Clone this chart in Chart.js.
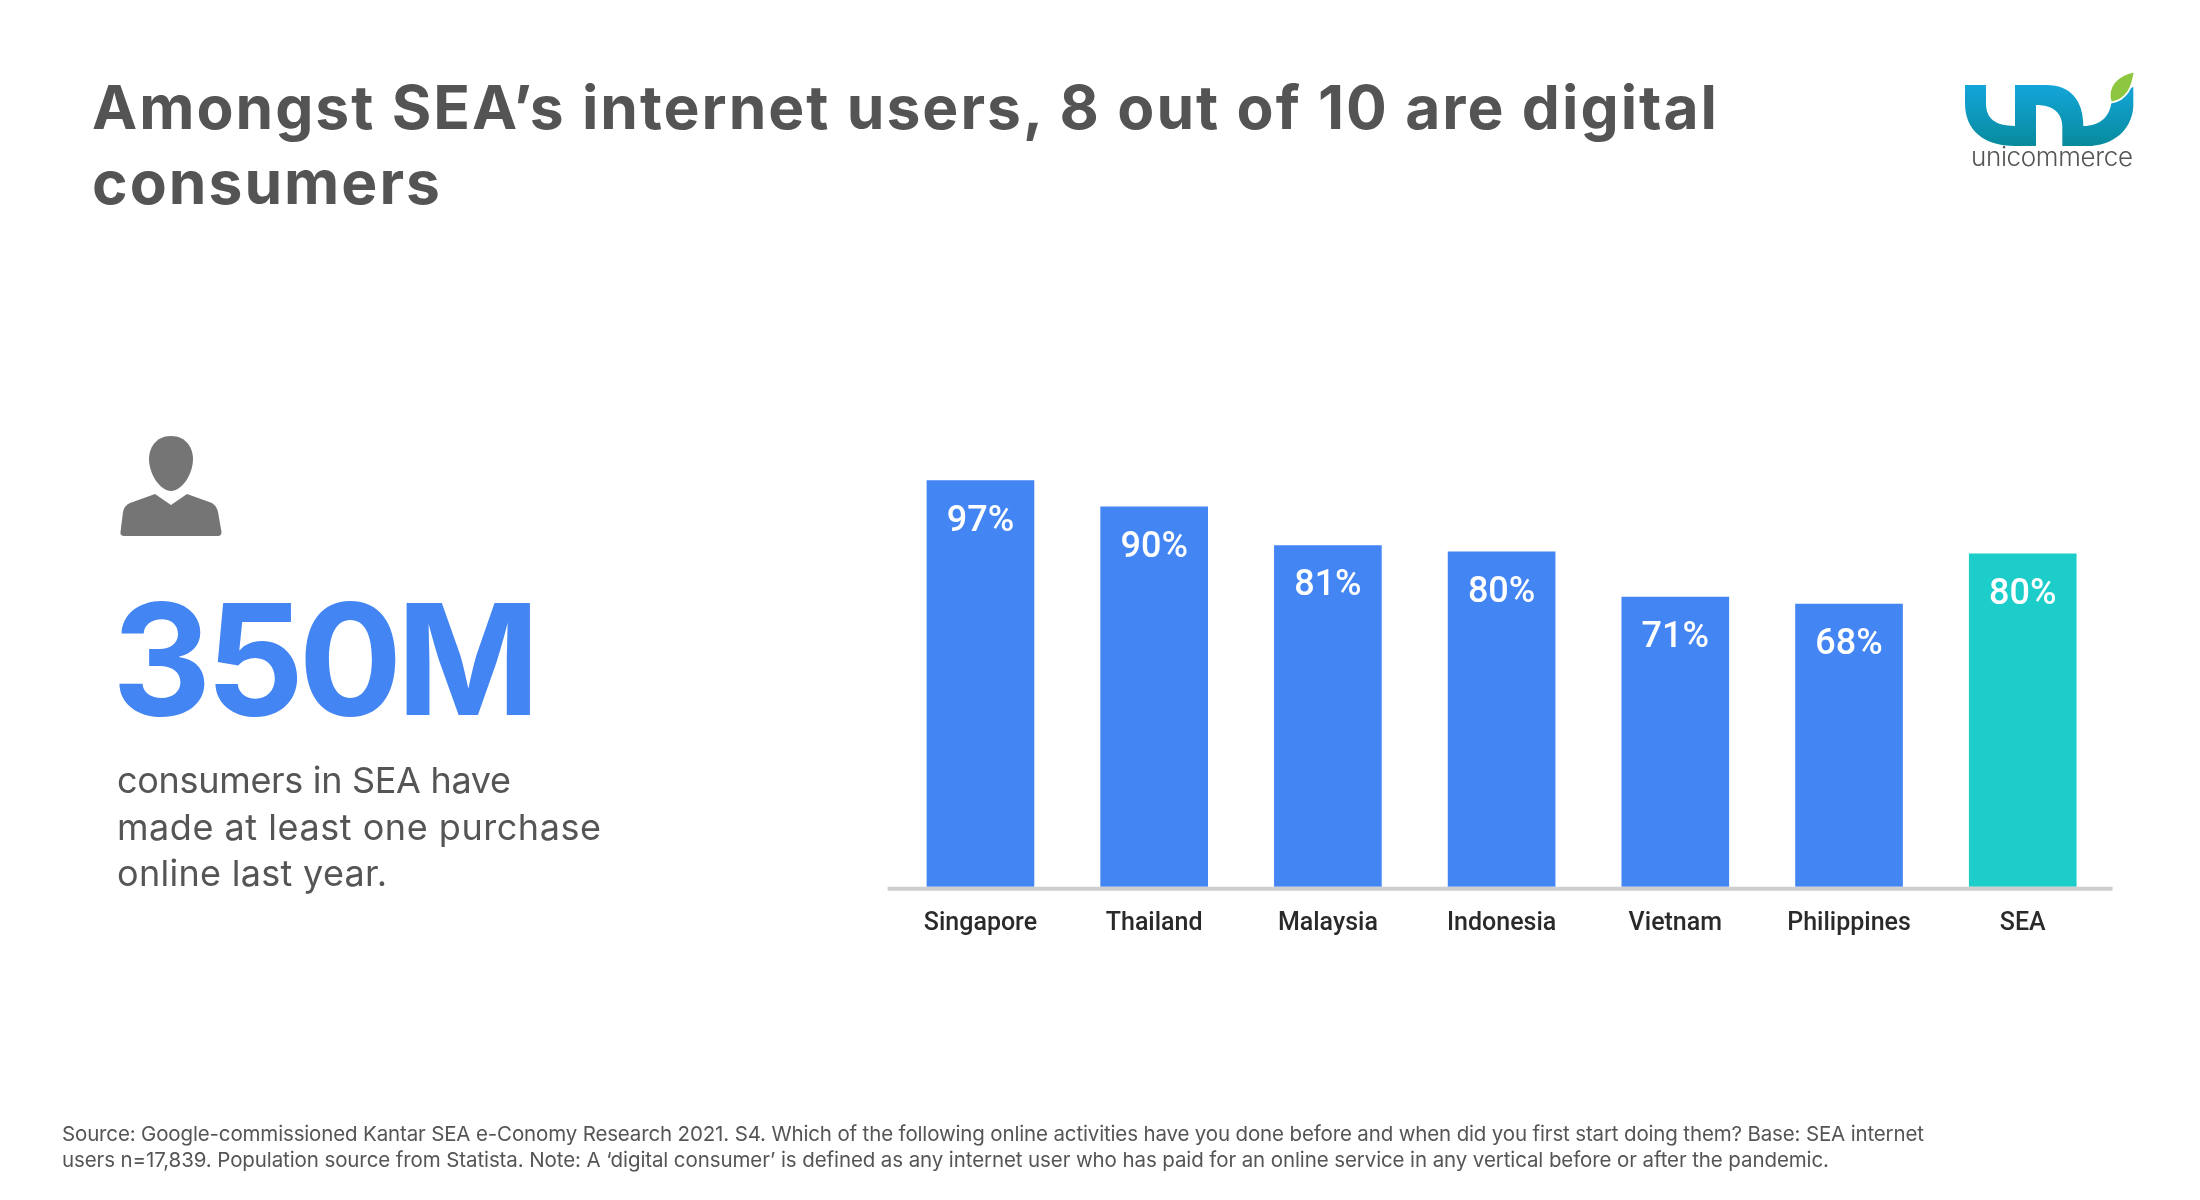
<!DOCTYPE html>
<html>
<head>
<meta charset="utf-8">
<script src="https://cdn.jsdelivr.net/npm/chart.js@4"></script>
<style>
  html, body { margin: 0; background: #fff; }
  #page { position: relative; width: 2200px; height: 1200px; overflow: hidden; }
  #page canvas, #page svg { position: absolute; left: 0; top: 0; }
  text { font-family: Inter, sans-serif; fill: #555; }
</style>
</head>
<body>
<div id="page">
  <canvas id="barChart" width="2200" height="1200"></canvas>
  <svg width="2200" height="1200" viewBox="0 0 2200 1200">
    <defs>
      <linearGradient id="logoFill" x1="0" y1="0" x2="0" y2="1">
        <stop offset="0" stop-color="#14a6da"/>
        <stop offset="1" stop-color="#078a9c"/>
      </linearGradient>
    </defs>

    <text x="92" y="129" textLength="1625" lengthAdjust="spacing" font-size="60.5" font-weight="700" style="fill:#545454">Amongst SEA’s internet users, 8 out of 10 are digital</text>
    <text x="92" y="204" textLength="348" lengthAdjust="spacing" font-size="60.5" font-weight="700" style="fill:#545454">consumers</text>

    <!-- logo -->
    <g transform="translate(1900,50) scale(0.3333)">
      <path fill="url(#logoFill)" d="M195 105 L258 105 L258 160 C258 205 285 228 345 228 L345 105 L440 105 C510 105 550 150 550 228 C600 228 632 200 635 150 L700 110 L700 170 C695 240 640 288 560 288 L487 288 L487 230 C487 190 460 165 408 165 L408 288 L345 288 C250 288 195 240 195 160 Z"/>
      <path fill="#8dc63f" stroke="#fff" stroke-width="5" d="M704 64 C697 110 682 150 633 158 C618 110 650 75 704 64 Z"/>
    </g>
    <text x="1971" y="166" textLength="162" lengthAdjust="spacing" font-size="26" font-weight="300" style="fill:#555">unicommerce</text>

    <!-- person icon -->
    <g fill="#757575">
      <path d="M171 436 C187 436 193 449 193 459 C193 474 182 491 171 491 C160 491 149 474 149 459 C149 449 155 436 171 436 Z"/>
      <path d="M155 494 L171 505 L187 494 L212 503 Q217 506 218 512 L221.5 532 Q221.5 536 218 536 L124 536 Q120 536 120.5 532 L123 512 Q124 506 130 503 Z"/>
    </g>

    <text x="112" y="715" textLength="428" lengthAdjust="spacing" font-size="154" font-weight="700" style="fill:#4485f4">350M</text>

    <text x="117" y="793" textLength="394" lengthAdjust="spacing" font-size="36" font-weight="400">consumers in SEA have</text>
    <text x="117" y="840" textLength="484" lengthAdjust="spacing" font-size="36" font-weight="400">made at least one purchase</text>
    <text x="117" y="886" textLength="270" lengthAdjust="spacing" font-size="36" font-weight="400">online last year.</text>

    <text x="62" y="1141" textLength="1862" lengthAdjust="spacing" font-size="20.5" font-weight="400">Source: Google-commissioned Kantar SEA e-Conomy Research 2021. S4. Which of the following online activities have you done before and when did you first start doing them? Base: SEA internet</text>
    <text x="62" y="1167" textLength="1767" lengthAdjust="spacing" font-size="20.5" font-weight="400">users n=17,839. Population source from Statista. Note: A ‘digital consumer’ is defined as any internet user who has paid for an online service in any vertical before or after the pandemic.</text>
  </svg>
</div>

<script>
var countries = ["Singapore", "Thailand", "Malaysia", "Indonesia", "Vietnam", "Philippines", "SEA"];
// printed on the bars
var printedShares = ["97%", "90%", "81%", "80%", "71%", "68%", "80%"];
// bar heights as measured in the picture, the source's bars don't follow the printed numbers exactly
var barHeights = [97, 90.7, 81.5, 80, 69.2, 67.5, 79.5];
var barColors = ["#4485f4", "#4485f4", "#4485f4", "#4485f4", "#4485f4", "#4485f4", "#1ccdca"];

var barLabels = {
    id: 'barLabels',
    afterDatasetsDraw: function(chart) {
        var ctx = chart.ctx;
        ctx.save();
        ctx.fillStyle = '#fff';
        ctx.font = '500 36px Roboto';
        ctx.textAlign = 'center';
        ctx.textBaseline = 'middle';
        chart.getDatasetMeta(0).data.forEach(function(bar, i) {
            ctx.fillText(printedShares[i], bar.x, bar.y + 41);
        });
        ctx.restore();
    }
};

// axis line runs a little past the outer bars' slots
var baseLine = {
    id: 'baseLine',
    afterDatasetsDraw: function(chart) {
        var ctx = chart.ctx, area = chart.chartArea;
        ctx.save();
        ctx.strokeStyle = '#cfcfcf';
        ctx.lineWidth = 4;
        ctx.beginPath();
        ctx.moveTo(area.left - 6, area.bottom + 2);
        ctx.lineTo(area.right + 3, area.bottom + 2);
        ctx.stroke();
        ctx.restore();
    }
};

var ctxB = document.getElementById("barChart").getContext('2d');
var myBarChart = new Chart(ctxB, {
    type: 'bar',
    data: {
        labels: countries,
        datasets: [{
            data: barHeights,
            backgroundColor: barColors,
            barThickness: 107
        }]
    },
    options: {
        responsive: false,
        animation: false,
        devicePixelRatio: 1,
        layout: { padding: { left: 893.6, right: 90.4, top: 468, bottom: 253.3 } },
        plugins: { legend: { display: false }, tooltip: { enabled: false } },
        scales: {
            x: {
                grid: { display: false, drawTicks: false },
                border: { display: false },
                afterFit: function(scale) { scale.height = 60; },
                ticks: { color: '#2a2a2a', padding: 22, font: { family: 'Roboto', size: 25, weight: '500' }, maxRotation: 0 }
            },
            y: { display: false, min: 0, max: 100 }
        }
    },
    plugins: [barLabels, baseLine]
});
</script>
</body>
</html>
